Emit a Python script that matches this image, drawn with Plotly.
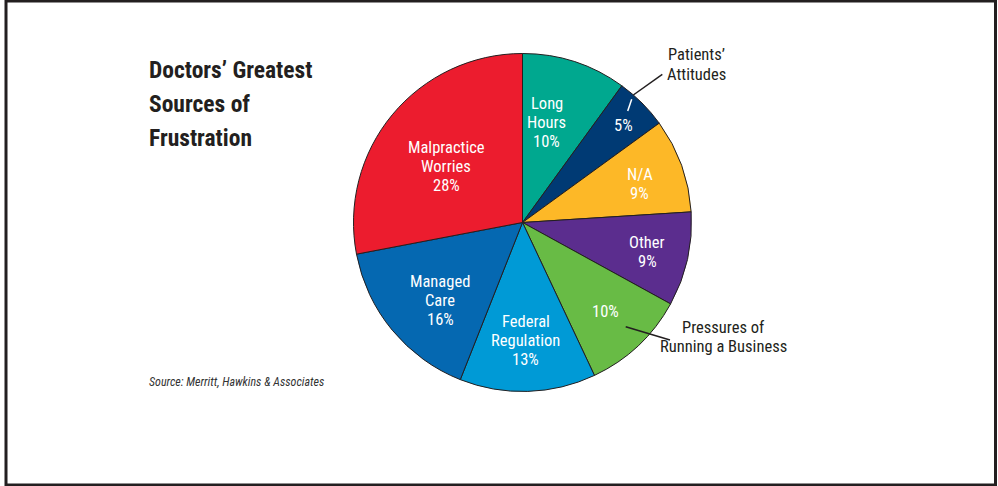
import math
import plotly.graph_objects as go

# ---- data -------------------------------------------------------------
categories = ["Long Hours", "Patients' Attitudes", "N/A", "Other",
              "Pressures of Running a Business", "Federal Regulation",
              "Managed Care", "Malpractice Worries"]
shares = [10, 5, 9, 9, 10, 13, 16, 28]
slice_words = [["Long", "Hours"], [], ["N/A"], ["Other"], [],
               ["Federal", "Regulation"], ["Managed", "Care"],
               ["Malpractice", "Worries"]]

# ---- styling ----------------------------------------------------------
W, H = 998, 486
FONT = "Roboto Condensed, Liberation Sans Narrow, DejaVu Sans Condensed, sans-serif"
INK = "#231f20"
colors = ["#00a88f", "#003a74", "#fdb827", "#5b2d8e",
          "#68bb45", "#009ad6", "#0568b1", "#ec1c2e"]

CX, CY, R = 522.5, 222.5, 169.0          # pie centre / radius in pixels
label_r = [0.61, 0.83, 0.73, 0.76, 0.72, 0.70, 0.67, 0.56]
label_nudge = [-4.5, 1.2, 1.8, 0.8, 0.0, 0.3, -3.9, -3.2]
LABEL_SIZE = 16.5
LINE_GAP = 19.0


def px(x):
    return x / W


def py(y):
    return 1 - y / H


fig = go.Figure(go.Pie(
    labels=categories,
    values=shares,
    sort=False,
    direction="clockwise",
    rotation=0,
    marker=dict(colors=colors, line=dict(color=INK, width=1)),
    textinfo="none",
    hoverinfo="skip",
    showlegend=False,
    domain=dict(x=[px(CX - R), px(CX + R)], y=[py(CY + R), py(CY - R)]),
))

annotations = []


def add_lines(lines, x, yc, size, color, gap, bold=False, anchor="center"):
    n = len(lines)
    for i, t in enumerate(lines):
        y = yc + (i - (n - 1) / 2) * gap
        annotations.append(dict(
            x=px(x), y=py(y), xref="paper", yref="paper",
            text=f"<b>{t}</b>" if bold else t, showarrow=False,
            xanchor=anchor, yanchor="middle",
            font=dict(family=FONT, size=size, color=color)))


# slice labels, placed along each slice's mid-angle
total = sum(shares)
cum = 0
for v, words, rf, nudge in zip(shares, slice_words, label_r, label_nudge):
    mid = (cum + v / 2) / total * 360 + nudge
    cum += v
    a = math.radians(mid)
    x = CX + rf * R * math.sin(a)
    y = CY - rf * R * math.cos(a)
    add_lines(words + [f"{v}%"], x, y, LABEL_SIZE, "white", LINE_GAP)

# outside category names
add_lines(["Patients’", "Attitudes"], 696, 64.5, LABEL_SIZE, INK, 20.5)
add_lines(["Pressures of", "Running a Business"], 723.5, 336.5, LABEL_SIZE, INK, 19)

# title
for t, y in zip(["Doctors’ Greatest", "Sources of", "Frustration"], [69.5, 104, 138]):
    add_lines([t], 147, y, 23.5, INK, 0, bold=True, anchor="left")

# source note
annotations.append(dict(
    x=px(147), y=py(381.5), xref="paper", yref="paper",
    text="<i>Source: Merritt, Hawkins &amp; Associates</i>", showarrow=False,
    xanchor="left", yanchor="middle",
    font=dict(family=FONT, size=12, color="#333333")))

shapes = [
    # frame
    dict(type="rect", xref="paper", yref="paper",
         x0=px(6), x1=px(995.5), y0=py(485), y1=py(1),
         line=dict(color=INK, width=3)),
    # leader lines
    dict(type="line", xref="paper", yref="paper",
         x0=px(627.7), y0=py(111), x1=px(631.7), y1=py(99.3),
         line=dict(color="white", width=1.5)),
    dict(type="line", xref="paper", yref="paper",
         x0=px(633.3), y0=py(95), x1=px(662.3), y1=py(74.3),
         line=dict(color=INK, width=1.5)),
    dict(type="line", xref="paper", yref="paper",
         x0=px(625.7), y0=py(326.7), x1=px(670), y1=py(340),
         line=dict(color=INK, width=1.5)),
]

fig.update_layout(
    width=W, height=H,
    margin=dict(l=0, r=0, t=0, b=0),
    paper_bgcolor="white", plot_bgcolor="white",
    annotations=annotations, shapes=shapes,
)

fig.write_html("out.html")
